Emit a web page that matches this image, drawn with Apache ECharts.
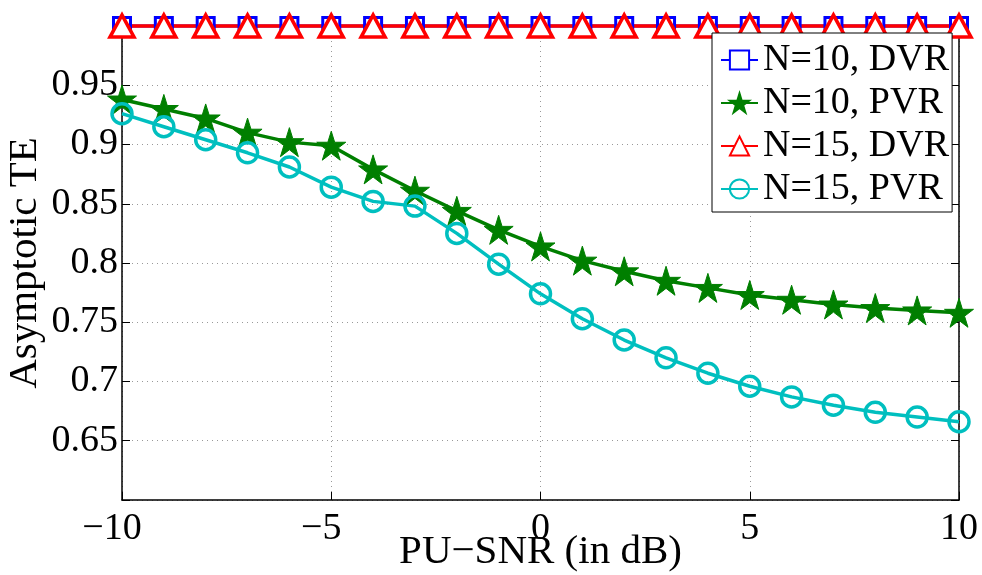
<!DOCTYPE html>
<html>
<head>
<meta charset="utf-8">
<title>Asymptotic TE</title>
<script src="https://cdn.jsdelivr.net/npm/echarts@6/dist/echarts.min.js"></script>
<style>
	html, body { margin: 0; padding: 0; background: #fff; }
	#main { width: 982px; height: 575px; }
</style>
</head>
<body>
<div id="main"></div>
<script>
// 数据
var snr = [-10, -9, -8, -7, -6, -5, -4, -3, -2, -1, 0, 1, 2, 3, 4, 5, 6, 7, 8, 9, 10];
var n10dvr = [1, 1, 1, 1, 1, 1, 1, 1, 1, 1, 1, 1, 1, 1, 1, 1, 1, 1, 1, 1, 1];
var n10pvr = [0.938, 0.930, 0.922, 0.910, 0.902, 0.899, 0.879, 0.861, 0.844, 0.828, 0.814,
	0.802, 0.793, 0.785, 0.779, 0.773, 0.769, 0.765, 0.762, 0.760, 0.758];
var n15dvr = [1, 1, 1, 1, 1, 1, 1, 1, 1, 1, 1, 1, 1, 1, 1, 1, 1, 1, 1, 1, 1];
var n15pvr = [0.926, 0.915, 0.904, 0.893, 0.881, 0.864, 0.852, 0.848, 0.825, 0.799, 0.774,
	0.753, 0.735, 0.720, 0.707, 0.696, 0.687, 0.680, 0.674, 0.670, 0.666];
var names = ['N=10, DVR', 'N=10, PVR', 'N=15, DVR', 'N=15, PVR'];

var font = 'Liberation Serif';
var star = 'path://M50,0 L61.2,34.5 L97.6,34.5 L68.2,55.9 L79.4,90.5 L50,69.1 L20.6,90.5 L31.8,55.9 L2.4,34.5 L38.8,34.5 Z';

function pairs(ys) {
	return snr.map(function(x, i) { return [x, ys[i]]; });
}
// 负数刻度用减号, 并向左偏一点 (和原图一样)
function xLabel(v) {
	if (v < 0) return '{neg|' + String(v).replace('-', '\u2212') + '}';
	return String(v);
}

var chart = echarts.init(document.getElementById('main'));
var option = {
	animation: false,
	backgroundColor: '#fff',
	textStyle: { fontFamily: font, color: '#000' },
	grid: { left: 122, right: 23, top: 26, bottom: 75, containLabel: false, outerBoundsMode: 'none' },
	legend: {
		orient: 'vertical',
		left: 712,
		top: 33,
		padding: [8, 3, 4, 8],
		itemGap: 5,
		itemWidth: 37,
		itemHeight: 24,
		itemTextGap: 5,
		backgroundColor: '#fff',
		borderColor: '#000',
		borderWidth: 1,
		textStyle: { fontFamily: font, fontSize: 38, lineHeight: 38, color: '#000' },
		data: names
	},
	xAxis: [{
		type: 'value',
		min: -10, max: 10, interval: 5,
		name: 'PU\u2212SNR (in dB)',
		nameLocation: 'middle',
		nameGap: 32,
		nameMoveOverlap: false,
		nameTextStyle: { fontFamily: font, fontSize: 41, color: '#000' },
		axisLine: { onZero: false, lineStyle: { color: '#000', width: 1.5 } },
		axisTick: { inside: true, length: 8, lineStyle: { color: '#000' } },
		axisLabel: {
			fontFamily: font, fontSize: 38, color: '#000', margin: 10, formatter: xLabel,
			rich: { neg: { fontFamily: font, fontSize: 38, color: '#000', padding: [0, 20, 0, 0] } }
		},
		splitLine: { lineStyle: { color: '#999', type: [1, 4], width: 1 } }
	}, {
		type: 'value',
		position: 'top',
		min: -10, max: 10, interval: 5,
		axisLine: { onZero: false, lineStyle: { color: '#000', width: 1.5 } },
		axisTick: { inside: true, length: 8, lineStyle: { color: '#000' } },
		axisLabel: { show: false },
		splitLine: { show: false }
	}],
	yAxis: [{
		type: 'value',
		min: 0.6, max: 1, interval: 0.05,
		name: 'Asymptotic TE',
		nameLocation: 'middle',
		nameGap: 76,
		nameMoveOverlap: false,
		nameTextStyle: { fontFamily: font, fontSize: 41, color: '#000' },
		axisLine: { show: true, onZero: false, lineStyle: { color: '#000', width: 1.5 } },
		axisTick: { show: true, inside: true, length: 8, lineStyle: { color: '#000' } },
		axisLabel: {
			fontFamily: font, fontSize: 38, color: '#000', margin: 4,
			formatter: function(v) {
				if (Math.abs(v - 0.6) < 1e-6 || Math.abs(v - 1) < 1e-6) return '';
				return String(+v.toFixed(2));
			}
		},
		splitLine: { lineStyle: { color: '#999', type: [1, 4], width: 1 } }
	}, {
		type: 'value',
		position: 'right',
		min: 0.6, max: 1, interval: 0.05,
		axisLine: { show: true, onZero: false, lineStyle: { color: '#000', width: 1.5 } },
		axisTick: { show: true, inside: true, length: 8, lineStyle: { color: '#000' } },
		axisLabel: { show: false },
		splitLine: { show: false }
	}],
	series: [
		{
			name: names[0],
			type: 'line',
			data: pairs(n10dvr),
			clip: false,
			symbol: 'rect',
			symbolSize: 17,
			color: '#0000ff',
			lineStyle: { color: '#0000ff', width: 3 },
			itemStyle: { color: '#fff', borderColor: '#0000ff', borderWidth: 3 }
		},
		{
			name: names[1],
			type: 'line',
			data: pairs(n10pvr),
			clip: false,
			symbol: star,
			symbolSize: 29,
			color: '#007f00',
			lineStyle: { color: '#007f00', width: 3.5 },
			itemStyle: { color: '#007f00', borderColor: '#007f00', borderWidth: 1 }
		},
		{
			name: names[2],
			type: 'line',
			data: pairs(n15dvr),
			clip: false,
			symbol: 'triangle',
			symbolSize: [24, 22],
			color: '#ff0000',
			lineStyle: { color: '#ff0000', width: 3.5 },
			itemStyle: { color: '#fff', borderColor: '#ff0000', borderWidth: 3.5 }
		},
		{
			name: names[3],
			type: 'line',
			data: pairs(n15pvr),
			clip: false,
			symbol: 'circle',
			symbolSize: 20,
			color: '#00bfbf',
			lineStyle: { color: '#00bfbf', width: 3.5 },
			itemStyle: { color: 'rgba(255,255,255,0)', borderColor: '#00bfbf', borderWidth: 3.5 }
		}
	]
};
chart.setOption(option);
</script>
</body>
</html>
